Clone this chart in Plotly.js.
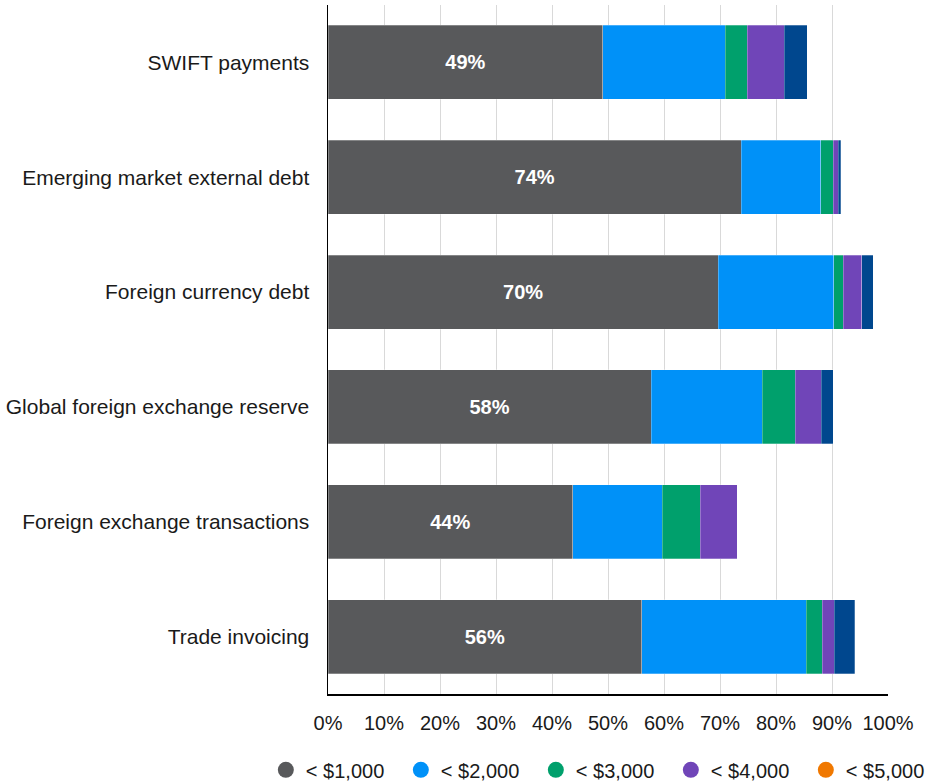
<!DOCTYPE html>
<html>
<head>
<meta charset="utf-8">
<script src="https://cdn.plot.ly/plotly-3.0.1.min.js"></script>
<style>
  html, body { margin: 0; padding: 0; background: #fff; }
  #chart { width: 933px; height: 784px; }
</style>
</head>
<body>
<div id="chart"></div>
<script>
// Categories (top to bottom)
const categories = [
  "SWIFT payments",
  "Emerging market external debt",
  "Foreign currency debt",
  "Global foreign exchange reserve",
  "Foreign exchange transactions",
  "Trade invoicing"
];

// Series values (% share)
const under1000 = [49.1, 73.8, 69.7, 57.7, 43.7, 56.0];
const under2000 = [21.8, 14.2, 20.6, 19.8, 16.0, 29.4];
const under3000 = [4.0, 2.2, 1.7, 5.9, 6.8, 2.9];
const under4000 = [6.6, 0.9, 3.3, 4.7, 6.6, 2.1];
const under5000 = [4.1, 0.5, 2.1, 2.1, 0.0, 3.7];

// Labels shown on the first segment
const firstLabels = ["49%", "74%", "70%", "58%", "44%", "56%"];

// Series names and x-axis ticks
const seriesNames = ["< $1,000", "< $2,000", "< $3,000", "< $4,000", "< $5,000"];
const tickValues = [0, 10, 20, 30, 40, 50, 60, 70, 80, 90, 100];
const tickLabels = ["0%", "10%", "20%", "30%", "40%", "50%", "60%", "70%", "80%", "90%", "100%"];

const barColors = ["#58595B", "#0091F8", "#00A06C", "#7045B8", "#00478E"];
const legendColors = ["#58595B", "#0091F8", "#00A06C", "#7045B8", "#F07800"];

const FONT = "Liberation Sans, Arial, sans-serif";
const seriesData = [under1000, under2000, under3000, under4000, under5000];

const traces = [];
seriesData.forEach((vals, i) => {
  const t = {
    type: "bar",
    orientation: "h",
    y: categories,
    x: vals,
    name: seriesNames[i],
    showlegend: false,
    marker: { color: barColors[i], line: { color: "rgba(255,255,255,0.45)", width: 0.6 } },
    hoverinfo: "x+y+name"
  };
  if (i === 0) {
    t.text = firstLabels;
    t.textposition = "inside";
    t.insidetextanchor = "middle";
    t.textangle = 0;
    t.textfont = { family: FONT, size: 20, color: "#ffffff", weight: "bold" };
  } else {
    t.textposition = "none";
  }
  traces.push(t);
});

// Legend entries (circle markers)
seriesNames.forEach((n, i) => {
  traces.push({
    type: "scatter",
    mode: "markers",
    x: [null],
    y: [null],
    name: n,
    showlegend: true,
    marker: { color: legendColors[i], size: 20, symbol: "circle" },
    hoverinfo: "skip"
  });
});

const layout = {
  width: 933,
  height: 784,
  margin: { l: 328, r: 45, t: 5, b: 90, pad: 0, autoexpand: false },
  paper_bgcolor: "#ffffff",
  plot_bgcolor: "#ffffff",
  barmode: "stack",
  bargap: 0.355,
  font: { family: FONT, size: 20, color: "#1a1a1a" },
  xaxis: {
    range: [0, 100],
    tickvals: tickValues,
    ticktext: tickLabels,
    showgrid: true,
    gridcolor: "#d9d9d9",
    gridwidth: 1,
    zeroline: false,
    showline: true,
    linecolor: "#000000",
    linewidth: 1.5,
    ticks: "",
    ticklabelstandoff: 10,
    tickfont: { family: FONT, size: 20, color: "#1a1a1a" },
    fixedrange: true
  },
  yaxis: {
    type: "category",
    categoryorder: "array",
    categoryarray: categories,
    autorange: "reversed",
    showgrid: false,
    zeroline: false,
    showline: true,
    linecolor: "#000000",
    linewidth: 1.5,
    ticks: "",
    ticklabelstandoff: 13,
    tickfont: { family: FONT, size: 21, color: "#1a1a1a" },
    fixedrange: true
  },
  showlegend: true,
  legend: {
    orientation: "h",
    x: -0.111,
    xanchor: "left",
    y: -0.11,
    yanchor: "middle",
    font: { family: FONT, size: 20, color: "#1a1a1a" },
    bgcolor: "rgba(0,0,0,0)",
    itemsizing: "trace",
    entrywidth: 90,
    entrywidthmode: "pixels",
    traceorder: "normal"
  }
};

Plotly.newPlot("chart", traces, layout, { displayModeBar: false, staticPlot: true });
</script>
</body>
</html>
